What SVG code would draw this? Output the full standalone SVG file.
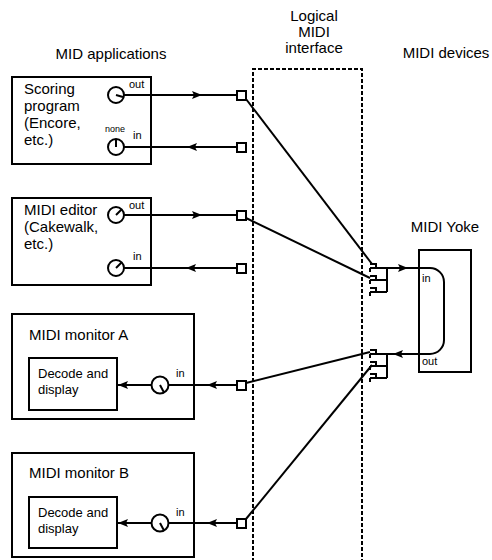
<svg xmlns="http://www.w3.org/2000/svg" xmlns:xlink="http://www.w3.org/1999/xlink" width="492" height="560" viewBox="0 0 492 560">
<defs>
<style>
.box{fill:#fff;stroke:#000;stroke-width:2}
.ln{fill:none;stroke:#000;stroke-width:2}
.thin{fill:none;stroke:#000;stroke-width:1.6}
.dash{fill:none;stroke:#000;stroke-width:2;stroke-dasharray:4 2}
.sq{fill:#fff;stroke:#000;stroke-width:2}
.knob{fill:#fff;stroke:#000;stroke-width:2}
text{font-family:"Liberation Sans",Arial,sans-serif;fill:#000}
.t15{font-size:15px}
.t13{font-size:13px}
.t11{font-size:11px}
.t9{font-size:9px}
</style>
<path id="ah" d="M0,0 L-10,-4 L-8,0 L-10,4 Z" fill="#000"/>
</defs>
<rect width="492" height="560" fill="#fff"/>

<g id="headings">
<text class="t15" x="111" y="59" text-anchor="middle">MID applications</text>
<text class="t15" x="314" y="21" text-anchor="middle">Logical</text>
<text class="t15" x="314" y="37" text-anchor="middle">MIDI</text>
<text class="t15" x="314" y="53" text-anchor="middle">interface</text>
<text class="t15" x="446" y="58" text-anchor="middle">MIDI devices</text>
</g>

<g id="interface">
<path class="dash" d="M253,562 V69 H362 V562"/>
</g>

<g id="scoring">
<rect class="box" x="12" y="77" width="139" height="87"/>
<text class="t15" x="24" y="94">Scoring</text>
<text class="t15" x="24" y="111">program</text>
<text class="t15" x="24" y="128">(Encore,</text>
<text class="t15" x="24" y="145">etc.)</text>
<circle class="knob" cx="116" cy="95" r="8"/>
<path class="ln" d="M116,95 L123,97"/>
<circle class="knob" cx="116" cy="147" r="8"/>
<path class="ln" d="M116,147 V139"/>
<text class="t11" x="129" y="88">out</text>
<text class="t9" x="105" y="132">none</text>
<text class="t11" x="133" y="139">in</text>
</g>

<g id="editor">
<rect class="box" x="12" y="198" width="139" height="87"/>
<text class="t15" x="24" y="215">MIDI editor</text>
<text class="t15" x="24" y="232">(Cakewalk,</text>
<text class="t15" x="24" y="249">etc.)</text>
<circle class="knob" cx="116" cy="215" r="8"/>
<path class="ln" d="M116,215 L121.5,209.5"/>
<circle class="knob" cx="116" cy="268" r="8"/>
<path class="ln" d="M116,268 L121.5,262.5"/>
<text class="t11" x="129" y="209">out</text>
<text class="t11" x="133" y="260">in</text>
</g>

<g id="monitorA">
<rect class="box" x="12" y="314" width="182" height="105"/>
<text class="t15" x="29" y="340">MIDI monitor A</text>
<rect class="box" x="29" y="358" width="88" height="52"/>
<text class="t13" x="38" y="378">Decode and</text>
<text class="t13" x="38" y="394">display</text>
<circle class="knob" cx="160" cy="385" r="8.5"/>
<path class="ln" d="M160,385 L164,392.5"/>
<text class="t11" x="176" y="377">in</text>
</g>

<g id="monitorB">
<rect class="box" x="12" y="453" width="182" height="104"/>
<text class="t15" x="29" y="478">MIDI monitor B</text>
<rect class="box" x="29" y="497" width="88" height="51"/>
<text class="t13" x="38" y="517">Decode and</text>
<text class="t13" x="38" y="533">display</text>
<circle class="knob" cx="160" cy="523" r="8.5"/>
<path class="ln" d="M160,523 L164,530.5"/>
<text class="t11" x="176" y="516">in</text>
</g>

<g id="yoke">
<text class="t15" x="445" y="232" text-anchor="middle">MIDI Yoke</text>
<rect class="box" x="419" y="250" width="52" height="122" fill="none" style="fill:none"/>
<text class="t11" x="422" y="282">in</text>
<text class="t11" x="422" y="365">out</text>
</g>

<g id="connectors">
<!-- scoring -->
<path class="ln" d="M124,95 H237"/>
<use xlink:href="#ah" transform="translate(202,95)"/>
<path class="ln" d="M124,147 H237"/>
<use xlink:href="#ah" transform="translate(187,147) rotate(180)"/>
<!-- editor -->
<path class="ln" d="M124,215 H237"/>
<use xlink:href="#ah" transform="translate(202,215)"/>
<path class="ln" d="M124,268 H237"/>
<use xlink:href="#ah" transform="translate(186,268) rotate(180)"/>
<!-- monitor A -->
<path class="ln" d="M168.5,385 H237"/>
<use xlink:href="#ah" transform="translate(207,385) rotate(180)"/>
<path class="ln" d="M117,385 H151.5"/>
<use xlink:href="#ah" transform="translate(118,385) rotate(180)"/>
<!-- monitor B -->
<path class="ln" d="M168.5,523 H237"/>
<use xlink:href="#ah" transform="translate(207,523) rotate(180)"/>
<path class="ln" d="M117,523 H151.5"/>
<use xlink:href="#ah" transform="translate(118,523) rotate(180)"/>
<!-- squares -->
<rect class="sq" x="237" y="91" width="9" height="9"/>
<rect class="sq" x="237" y="143" width="9" height="9"/>
<rect class="sq" x="237" y="211" width="9" height="9"/>
<rect class="sq" x="237" y="264" width="9" height="9"/>
<rect class="sq" x="237" y="381" width="9" height="9"/>
<rect class="sq" x="237" y="519" width="9" height="9"/>
<!-- diagonals -->
<path class="ln" d="M246,99 L372,264"/>
<path class="ln" d="M246,218 L370,278"/>
<path class="ln" d="M246,383 L370,352"/>
<path class="ln" d="M246,519 L372,365"/>
<!-- upper sockets -->
<path class="ln" d="M370,264 H376 V268 M370,276 H376 V280 M370,288 H376 V292"/>
<path class="ln" d="M370,268 V272 M370,280 V284 M370,292 V296"/>
<path class="ln" d="M370,280 H387 M370,292 H387 M387,268 V292"/>
<!-- lower sockets -->
<path class="ln" d="M370,350 H376 V354 M370,362 H376 V366 M370,374 H376 V378"/>
<path class="ln" d="M370,354 V358 M370,366 V370 M370,378 V382"/>
<path class="ln" d="M370,366 H387 M370,378 H387 M387,354 V378"/>
<!-- yoke loop -->
<path class="ln" d="M370,268 H430 A14,14 0 0 1 444,282 V340 A14,14 0 0 1 430,354 H370"/>
<use xlink:href="#ah" transform="translate(408,268)"/>
<use xlink:href="#ah" transform="translate(393,354) rotate(180)"/>
</g>
</svg>
